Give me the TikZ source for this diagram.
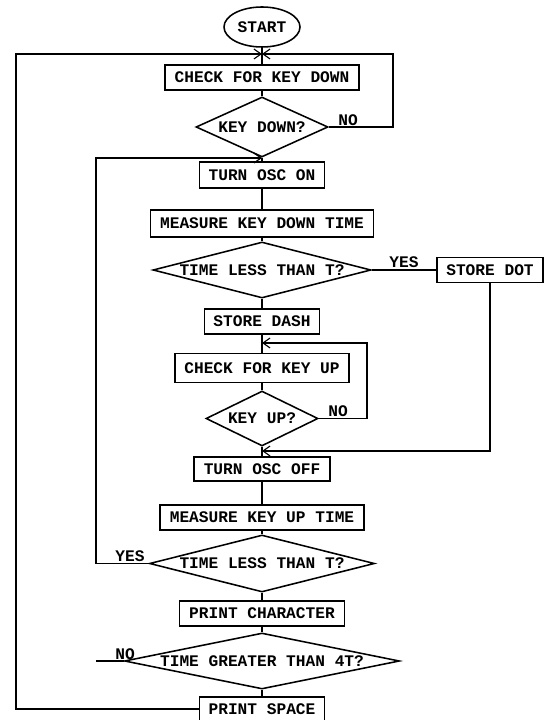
\documentclass[tikz,border=0pt]{standalone}
\usepackage{fontspec}
\setmonofont{Liberation Mono}
\usetikzlibrary{shapes.geometric,arrows.meta}

\begin{document}
\begin{tikzpicture}[
    x=0.025cm, y=-0.025cm,
    every node/.style={font=\ttfamily\bfseries\fontsize{11.5}{13}\selectfont},
    box/.style={draw, rectangle, line width=1.1pt, inner sep=0pt, minimum height=0.625cm},
    decision/.style={draw, diamond, line width=1.1pt, inner sep=0pt},
    terminal/.style={draw, ellipse, line width=1.1pt, inner sep=0pt, minimum width=1.9cm, minimum height=1cm},
    flow/.style={line width=1.1pt},
    backline/.style={line width=0.8pt},
    arrow/.style={backline, -{Straight Barb[length=5pt,width=7pt]}},
    branch/.style={inner sep=1pt, anchor=south}
]
\useasboundingbox (0,0) rectangle (547,720);

% --- Main column ---
\node[terminal] (start) at (262,27) {START};
\node[box, minimum width=4.85cm] (ckdown) at (262,77.5) {CHECK FOR KEY DOWN};
\node[decision, aspect=2.2, minimum width=3.3cm, minimum height=1.5cm] (kdown) at (262,127) {KEY DOWN?};
\node[box, minimum width=3.125cm, minimum height=0.65cm] (oscon) at (262,175) {TURN OSC ON};
\node[box, minimum width=5.575cm, minimum height=0.675cm] (mdown) at (262,223.5) {MEASURE KEY DOWN TIME};
\node[decision, aspect=3.9, minimum width=5.45cm, minimum height=1.4cm] (tless1) at (262,270) {TIME LESS THAN T?};
\node[box, minimum width=2.875cm] (sdash) at (262,321.5) {STORE DASH};
\node[box, minimum width=4.35cm, minimum height=0.725cm] (ckup) at (262,368) {CHECK FOR KEY UP};
\node[decision, aspect=2, minimum width=2.8cm, minimum height=1.375cm] (kup) at (262,418.5) {KEY UP?};
\node[box, minimum width=3.4cm, minimum height=0.6cm] (oscoff) at (262,469) {TURN OSC OFF};
\node[box, minimum width=5.1cm] (mup) at (262,517.5) {MEASURE KEY UP TIME};
\node[decision, aspect=3.9, minimum width=5.625cm, minimum height=1.425cm] (tless2) at (262,563.5) {TIME LESS THAN T?};
\node[box, minimum width=4.125cm] (pchar) at (262,613.5) {PRINT CHARACTER};
\node[decision, aspect=4.9, minimum width=6.875cm, minimum height=1.4cm] (tgreat) at (262,661) {TIME GREATER THAN 4T?};
\node[box, minimum width=3.125cm, minimum height=0.6cm] (pspace) at (262,709) {PRINT SPACE};

% --- Side box ---
\node[box, minimum width=2.65cm] (sdot) at (490,270) {STORE DOT};

% --- Junctions and corners ---
\coordinate (j1) at (262,54);
\coordinate (j2) at (262,158);
\coordinate (j3) at (262,451);
\coordinate (j4) at (262,343);
\coordinate (outer) at (16,54);
\coordinate (inner) at (96,158);
\coordinate (kdloop) at (393,54);
\coordinate (kuloop) at (367,343);

% --- Spine ---
\draw[flow] (start) -- (ckdown) -- (kdown) -- (oscon) -- (mdown) -- (tless1)
    -- (sdash) -- (ckup) -- (kup) -- (oscoff) -- (mup) -- (tless2)
    -- (pchar) -- (tgreat) -- (pspace);

% --- Loops back ---
\draw[arrow] (pspace.west) -| (outer) -- (j1);
\draw[arrow] (kdown.east) -| (kdloop) -- (j1);
\node[branch] (no1) at (348,127) {NO};

\draw[arrow] (tless2.west) -| (inner) -- (j2);
\draw[backline] (tgreat.west) -- (tgreat.west -| inner);
\node[branch] (yes2) at (130,563.5) {YES};
\node[branch] (no3) at (125,661) {NO};

\draw[arrow] (kup.east) -| (kuloop) -- (j4);
\node[branch] (no2) at (338,418.5) {NO};

% --- Dot branch ---
\draw[flow] (tless1.east) -- node[branch] (yes1) {YES} (sdot.west);
\draw[arrow] (sdot.south) |- (j3);

\end{tikzpicture}
\end{document}
